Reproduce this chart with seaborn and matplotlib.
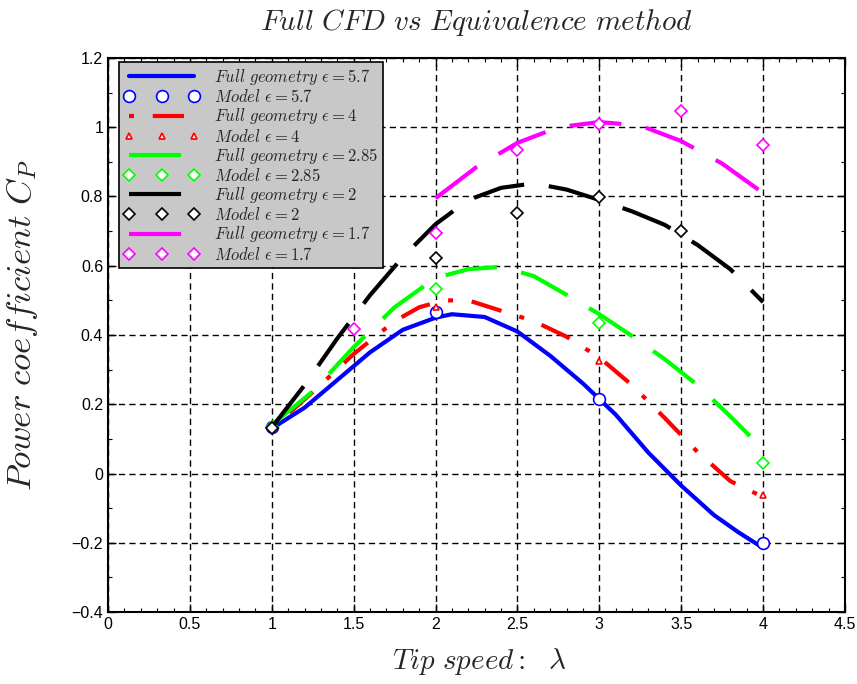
import matplotlib
matplotlib.use("Agg")
import matplotlib.pyplot as plt
import seaborn as sns
import numpy as np
import pandas as pd
from matplotlib.ticker import MultipleLocator

# ---- data ----
full57_x = [1.0, 1.2, 1.4, 1.6, 1.8, 2.0, 2.1, 2.3, 2.5, 2.7, 2.9, 3.1, 3.3, 3.5, 3.7, 3.85, 4.0]
full57_y = [0.13, 0.19, 0.27, 0.35, 0.415, 0.45, 0.46, 0.452, 0.41, 0.34, 0.26, 0.17, 0.06, -0.035, -0.12, -0.17, -0.215]
model57_x = [1.0, 2.0, 3.0, 4.0]
model57_y = [0.135, 0.465, 0.215, -0.20]

full4_x = [1.0, 1.25, 1.5, 1.75, 1.9, 2.05, 2.2, 2.4, 2.6, 2.8, 3.0, 3.2, 3.4, 3.6, 3.8, 4.0]
full4_y = [0.13, 0.235, 0.345, 0.44, 0.48, 0.50, 0.50, 0.47, 0.44, 0.395, 0.335, 0.255, 0.16, 0.062, -0.022, -0.068]
model4_x = [1.0, 2.0, 3.0, 4.0]
model4_y = [0.13, 0.48, 0.325, -0.062]

full285_x = [1.0, 1.25, 1.5, 1.75, 2.0, 2.2, 2.4, 2.6, 2.8, 3.0, 3.2, 3.4, 3.6, 3.8, 4.0]
full285_y = [0.14, 0.237, 0.365, 0.48, 0.565, 0.59, 0.597, 0.57, 0.516, 0.46, 0.397, 0.33, 0.255, 0.165, 0.07]
model285_x = [1.0, 2.0, 3.0, 4.0]
model285_y = [0.135, 0.533, 0.435, 0.03]

full2_x = [1.0, 1.2, 1.4, 1.6, 1.8, 2.0, 2.2, 2.4, 2.6, 2.8, 3.0, 3.2, 3.4, 3.6, 3.8, 4.0]
full2_y = [0.133, 0.255, 0.39, 0.515, 0.625, 0.72, 0.79, 0.825, 0.838, 0.82, 0.79, 0.757, 0.718, 0.66, 0.59, 0.495]
model2_x = [1.0, 2.0, 2.5, 3.0, 3.5]
model2_y = [0.13, 0.622, 0.753, 0.80, 0.70]

full17_x = [2.0, 2.25, 2.5, 2.75, 3.0, 3.25, 3.5, 3.75, 4.0]
full17_y = [0.795, 0.885, 0.955, 1.0, 1.015, 1.005, 0.96, 0.895, 0.81]
model17_x = [1.5, 2.0, 2.5, 3.0, 3.5, 4.0]
model17_y = [0.418, 0.695, 0.935, 1.01, 1.047, 0.95]

labels_full = [r"$Full\ geometry\ \epsilon = 5.7$", r"$Full\ geometry\ \epsilon = 4$",
               r"$Full\ geometry\ \epsilon = 2.85$", r"$Full\ geometry\ \epsilon = 2$",
               r"$Full\ geometry\ \epsilon = 1.7$"]
labels_model = [r"$Model\ \epsilon = 5.7$", r"$Model\ \epsilon = 4$",
                r"$Model\ \epsilon = 2.85$", r"$Model\ \epsilon = 2$",
                r"$Model\ \epsilon = 1.7$"]

# ---- style ----
sns.set_theme(style="ticks")
plt.rcParams["font.family"] = ["Liberation Sans Narrow", "Liberation Sans", "DejaVu Sans"]
plt.rcParams["mathtext.fontset"] = "cm"

fig = plt.figure(figsize=(8.57, 6.84), dpi=100)
ax = fig.add_axes([108/857, 1-612/684, (845-108)/857, (612-58)/684])

colors = ["#0000ff", "#ff0000", "#00ff00", "#000000", "#ff00ff"]
line_styles = ["-", (0, (1.2, 4.5, 7.5, 4.5)), (0, (12.5, 6)), (0, (12.5, 6)), (0, (12.5, 6))]
markers = ["o", "^", "D", "D", "D"]
msizes = [8.5, 5, 6, 6, 6]

fulls = [(full57_x, full57_y), (full4_x, full4_y), (full285_x, full285_y), (full2_x, full2_y), (full17_x, full17_y)]
models = [(model57_x, model57_y), (model4_x, model4_y), (model285_x, model285_y), (model2_x, model2_y), (model17_x, model17_y)]

for i in range(5):
    fx, fy = fulls[i]
    sns.lineplot(x=fx, y=fy, ax=ax, color=colors[i], linewidth=3.0, linestyle=line_styles[i],
                 label=labels_full[i], sort=False, estimator=None)
    mx, my = models[i]
    sns.lineplot(x=mx, y=my, ax=ax, color=colors[i], linestyle="", marker=markers[i],
                 markersize=msizes[i], markerfacecolor="white", markeredgecolor=colors[i],
                 markeredgewidth=1.2, label=labels_model[i], sort=False, estimator=None)

ax.set_xlim(0, 4.5)
ax.set_ylim(-0.4, 1.2)
ax.xaxis.set_minor_locator(MultipleLocator(0.1))
ax.yaxis.set_minor_locator(MultipleLocator(0.1))
ax.set_xticks(np.arange(0, 4.51, 0.5))
ax.set_xticklabels(["0", "0.5", "1", "1.5", "2", "2.5", "3", "3.5", "4", "4.5"])
ax.set_yticks(np.arange(-0.4, 1.21, 0.2))
ax.set_yticklabels(["\u22120.4", "\u22120.2", "0", "0.2", "0.4", "0.6", "0.8", "1", "1.2"])

ax.grid(True, which="major", color="black", linestyle=(0, (4.5, 3)), linewidth=1.0)
ax.tick_params(which="both", direction="in", top=True, right=True, labelsize=11.5, colors="black")
ax.tick_params(which="major", length=6, width=1.0)
ax.tick_params(which="minor", length=3, width=0.8)
for s in ax.spines.values():
    s.set_color("black")
    s.set_linewidth(1.5)

ax.set_title(r"$Full\ CFD\ vs\ Equivalence\ method$", fontsize=21, pad=20)
ax.set_xlabel(r"$Tip\ speed:\ \ \lambda$", fontsize=21)
ax.xaxis.set_label_coords((479-108)/737, -(646-612)/554)
ax.set_ylabel(r"$Power\ coefficient\ C_P$", fontsize=25)
ax.yaxis.set_label_coords(-(108-40)/737, (612-325)/554)

leg = ax.legend(loc="upper left", bbox_to_anchor=(11/737, 1-4/554), borderaxespad=0,
                numpoints=3, fontsize=12, handlelength=4.5, handletextpad=0.9,
                labelspacing=0.07, borderpad=0.3, fancybox=False, framealpha=1,
                facecolor="#c8c8c8", edgecolor="black")
leg.get_frame().set_linewidth(1.2)

fig.savefig("out.png", dpi=100)
